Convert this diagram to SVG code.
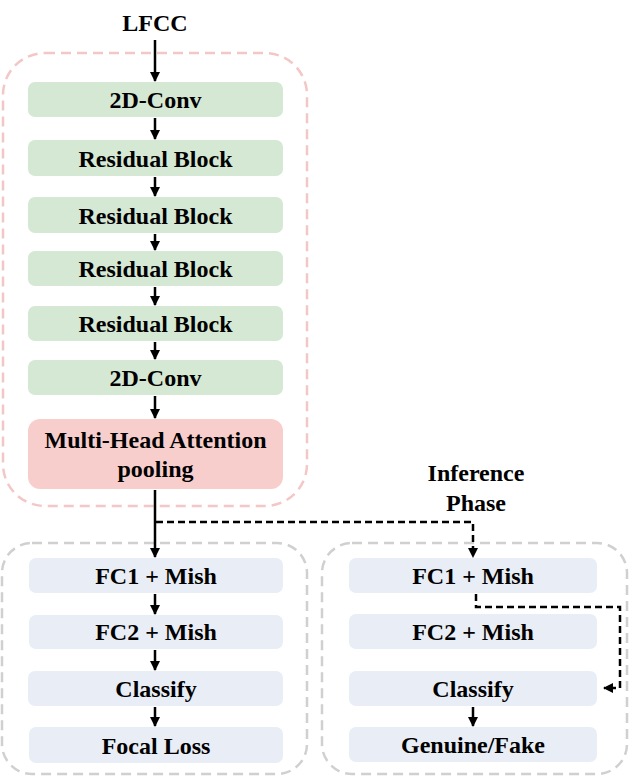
<svg xmlns="http://www.w3.org/2000/svg" width="629" height="776" viewBox="0 0 629 776" font-family="Liberation Serif, Times New Roman, serif">
<defs>
<style>
text{font-weight:bold;font-size:24px;fill:#000;text-anchor:middle}
.g{fill:#d5e8d4}
.p{fill:#f8cecc}
.b{fill:#e9edf5}
.c{fill:none;stroke:#000;stroke-width:2.5}
.d{fill:none;stroke:#000;stroke-width:2.5;stroke-dasharray:7 4}
</style>
<marker id="a" viewBox="0 0 10 10" refX="9" refY="5" markerWidth="4" markerHeight="4" orient="auto" markerUnits="strokeWidth"><path d="M0,0L10,5L0,10z" fill="#000"/></marker>
</defs>
<rect width="629" height="776" fill="#fff"/>
<g id="groups">
<rect id="encoder" x="3" y="53" width="304" height="453" rx="42" fill="none" stroke="#f4c7c7" stroke-width="2.5" stroke-dasharray="10 6"/>
<rect id="train" x="2" y="543" width="305" height="231" rx="30" fill="none" stroke="#d0d0d0" stroke-width="2.5" stroke-dasharray="10 6"/>
<rect id="infer" x="322" y="543" width="305" height="231" rx="30" fill="none" stroke="#d0d0d0" stroke-width="2.5" stroke-dasharray="10 6"/>
</g>
<text x="155" y="31">LFCC</text>
<text x="476" y="481">Inference</text>
<text x="476" y="511">Phase</text>
<g id="conv1"><rect class="g" x="28" y="82" width="255" height="35" rx="7"/><text x="155.5" y="108">2D-Conv</text></g>
<g id="res1"><rect class="g" x="28" y="140" width="255" height="36" rx="7"/><text x="155.5" y="167">Residual Block</text></g>
<g id="res2"><rect class="g" x="28" y="197" width="255" height="36" rx="7"/><text x="155.5" y="224">Residual Block</text></g>
<g id="res3"><rect class="g" x="28" y="251" width="255" height="35" rx="7"/><text x="155.5" y="277">Residual Block</text></g>
<g id="res4"><rect class="g" x="28" y="306" width="255" height="35" rx="7"/><text x="155.5" y="332">Residual Block</text></g>
<g id="conv2"><rect class="g" x="28" y="360" width="255" height="35" rx="7"/><text x="155.5" y="386">2D-Conv</text></g>
<g id="mha"><rect class="p" x="28" y="419" width="255" height="70" rx="12"/><text x="155.5" y="448">Multi-Head Attention</text><text x="155.5" y="477">pooling</text></g>
<g id="fc1a"><rect class="b" x="29" y="558" width="254" height="35" rx="7"/><text x="156" y="584">FC1 + Mish</text></g>
<g id="fc2a"><rect class="b" x="29" y="615" width="254" height="34" rx="7"/><text x="156" y="640">FC2 + Mish</text></g>
<g id="clsa"><rect class="b" x="28" y="671" width="255" height="35" rx="7"/><text x="156" y="697">Classify</text></g>
<g id="loss"><rect class="b" x="29" y="727" width="254" height="36" rx="7"/><text x="156" y="754">Focal Loss</text></g>
<g id="fc1b"><rect class="b" x="349" y="558" width="248" height="35" rx="7"/><text x="473" y="584">FC1 + Mish</text></g>
<g id="fc2b"><rect class="b" x="349" y="614" width="248" height="35" rx="7"/><text x="473" y="640">FC2 + Mish</text></g>
<g id="clsb"><rect class="b" x="349" y="671" width="248" height="35" rx="7"/><text x="473" y="697">Classify</text></g>
<g id="out"><rect class="b" x="349" y="727" width="248" height="35" rx="7"/><text x="473" y="753">Genuine/Fake</text></g>
<g id="connectors">
<path class="c" marker-end="url(#a)" d="M155,40V81"/>
<path class="c" marker-end="url(#a)" d="M155,118V139"/>
<path class="c" marker-end="url(#a)" d="M155,177V196"/>
<path class="c" marker-end="url(#a)" d="M155,234V250"/>
<path class="c" marker-end="url(#a)" d="M155,287V305"/>
<path class="c" marker-end="url(#a)" d="M155,342V359"/>
<path class="c" marker-end="url(#a)" d="M155,396V418"/>
<path class="c" marker-end="url(#a)" d="M155,490V557"/>
<path class="c" marker-end="url(#a)" d="M155,594V614"/>
<path class="c" marker-end="url(#a)" d="M155,650V670"/>
<path class="c" marker-end="url(#a)" d="M155,707V726"/>
<path class="c" marker-end="url(#a)" d="M473,707V726"/>
<path class="d" marker-end="url(#a)" d="M156,522H473V557"/>
<path class="d" marker-end="url(#a)" d="M476,594V607H620V688H604"/>
</g>
</svg>
